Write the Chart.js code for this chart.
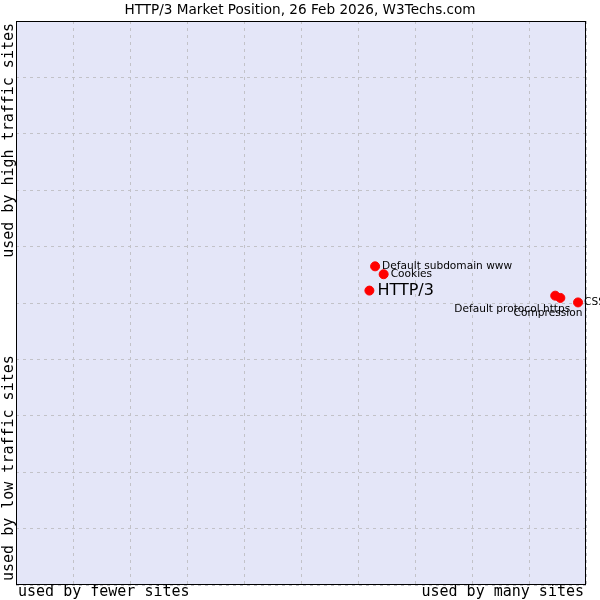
<!DOCTYPE html>
<html>
<head>
<meta charset="utf-8">
<script src="https://cdn.jsdelivr.net/npm/chart.js@4"></script>
<style>
html,body{margin:0;padding:0;background:#fff;}
#wrap{width:600px;height:600px;position:relative;}
</style>
</head>
<body>
<div id="wrap"><canvas id="c" width="600" height="600"></canvas></div>
<script>
const titleText = "HTTP/3 Market Position, 26 Feb 2026, W3Techs.com";
const technologies = ["HTTP/3", "Default subdomain www", "Cookies", "Default protocol https", "Compression", "CSS"];
const usageScore = [6.20, 6.30, 6.45, 9.46, 9.55, 9.86];
const trafficScore = [5.22, 5.65, 5.51, 5.13, 5.09, 5.01];
const xAxisLabels = ["used by fewer sites", "used by many sites"];
const yAxisLabels = ["used by low traffic sites", "used by high traffic sites"];
const gridTicks = [0,1,2,3,4,5,6,7,8,9,10];

// label placement (style only)
const labelPlace = [
  {dx: 8, dy: 0, align: 'left', size: 16},
  {dx: 7, dy: 0, align: 'left', size: 10.6},
  {dx: 7, dy: 0, align: 'left', size: 10.6},
  {dx: 15, dy: 14, align: 'right', size: 10.6},
  {dx: 22, dy: 15, align: 'right', size: 10.6},
  {dx: 6, dy: 0, align: 'left', size: 10.6}
];

const points = usageScore.map((x, i) => ({x: x, y: trafficScore[i]}));

const decor = {
  id: 'decor',
  beforeDraw(chart) {
    const {ctx, chartArea: a} = chart;
    ctx.save();
    ctx.fillStyle = '#ffffff';
    ctx.fillRect(0, 0, chart.width, chart.height);
    ctx.fillStyle = '#e4e6f8';
    ctx.fillRect(a.left, a.top, a.right - a.left, a.bottom - a.top);
    ctx.restore();
  },
  afterDatasetsDraw(chart) {
    const {ctx, chartArea: a} = chart;
    ctx.save();
    ctx.strokeStyle = '#000';
    ctx.lineWidth = 1;
    ctx.strokeRect(Math.round(a.left) + 0.5, Math.round(a.top) + 0.5, Math.round(a.right - a.left) - 1, Math.round(a.bottom - a.top) - 1);
    // point labels
    const meta = chart.getDatasetMeta(0);
    ctx.fillStyle = '#000';
    ctx.textBaseline = 'middle';
    meta.data.forEach((pt, i) => {
      const p = labelPlace[i];
      ctx.font = p.size + 'px "DejaVu Sans", sans-serif';
      ctx.textAlign = p.align;
      ctx.fillText(technologies[i], pt.x + p.dx, pt.y + p.dy);
    });
    // title
    ctx.font = '13.6px "DejaVu Sans", sans-serif';
    ctx.textAlign = 'center';
    ctx.fillText(titleText, 300, 10);
    // axis captions
    ctx.font = '15px "DejaVu Sans Mono", monospace';
    ctx.textAlign = 'left';
    ctx.fillText(xAxisLabels[0], a.left + 2, 592);
    ctx.textAlign = 'right';
    ctx.fillText(xAxisLabels[1], a.right - 2, 592);
    ctx.translate(9, 0);
    ctx.rotate(-Math.PI / 2);
    ctx.textAlign = 'left';
    ctx.fillText(yAxisLabels[0], -a.bottom + 4, 0);
    ctx.textAlign = 'right';
    ctx.fillText(yAxisLabels[1], -a.top - 2, 0);
    ctx.restore();
  }
};

new Chart(document.getElementById('c'), {
  type: 'scatter',
  data: {
    datasets: [{
      data: points,
      backgroundColor: '#ff0000',
      borderColor: '#ff0000',
      pointRadius: 4.5,
      pointHoverRadius: 4.5,
      pointStyle: 'circle'
    }]
  },
  options: {
    responsive: false,
    animation: false,
    devicePixelRatio: 1,
    layout: {padding: {left: 16, top: 21, right: 14, bottom: 15}},
    plugins: {legend: {display: false}, tooltip: {enabled: false}, title: {display: false}},
    scales: {
      x: {
        type: 'linear', min: 0, max: 10,
        afterBuildTicks: s => { s.ticks = gridTicks.map(v => ({value: v})); },
        ticks: {display: false},
        border: {display: false, dash: [3, 4]},
        grid: {color: '#c2c2c8', lineWidth: 1, drawTicks: false, tickLength: 0}
      },
      y: {
        type: 'linear', min: 0, max: 10,
        afterBuildTicks: s => { s.ticks = gridTicks.map(v => ({value: v})); },
        ticks: {display: false},
        border: {display: false, dash: [3, 4]},
        grid: {color: '#c2c2c8', lineWidth: 1, drawTicks: false, tickLength: 0}
      }
    }
  },
  plugins: [decor]
});
</script>
</body>
</html>
